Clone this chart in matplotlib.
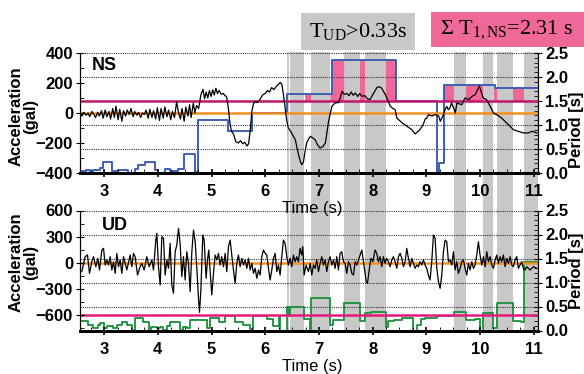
import numpy as np
import matplotlib.pyplot as plt
from matplotlib.patches import Rectangle
from matplotlib.transforms import blended_transform_factory
from matplotlib.ticker import MultipleLocator, FormatStrFormatter

plt.rcParams['font.family'] = ['Liberation Sans', 'DejaVu Sans']
plt.rcParams['font.weight'] = 'bold'
plt.rcParams['mathtext.fontset'] = 'custom'
plt.rcParams['mathtext.rm'] = 'Liberation Serif:weight=normal'
plt.rcParams['mathtext.it'] = 'Liberation Serif:italic:weight=normal'
plt.rcParams['mathtext.bf'] = 'Liberation Serif:weight=bold'

T_START, T_END = 2.55, 11.08

# ---- NS record ----
ns_t = [2.55, 2.59, 2.62, 2.66, 2.70, 2.73, 2.77, 2.81, 2.84, 2.88, 2.91, 2.95, 2.98, 3.02,
        3.05, 3.09, 3.12, 3.16, 3.19, 3.22, 3.26, 3.29, 3.33, 3.36, 3.40, 3.43, 3.47, 3.50,
        3.54, 3.57, 3.61, 3.64, 3.68, 3.71, 3.75, 3.78, 3.82, 3.85, 3.89, 3.92, 3.96, 3.99,
        4.03, 4.06, 4.10, 4.13, 4.17, 4.20, 4.24, 4.27, 4.31, 4.35, 4.38, 4.42, 4.45, 4.49,
        4.52, 4.56, 4.59, 4.62, 4.66, 4.69, 4.72, 4.76, 4.80, 4.84, 4.87, 4.90, 4.93, 4.96,
        4.99, 5.02, 5.05, 5.08, 5.11, 5.14, 5.18, 5.22, 5.25, 5.28, 5.31, 5.34, 5.37, 5.41,
        5.45, 5.50, 5.54, 5.58, 5.62, 5.66, 5.69, 5.72, 5.75, 5.78, 5.81, 5.85, 5.90, 5.95,
        6.00, 6.04, 6.08, 6.12, 6.16, 6.20, 6.24, 6.28, 6.31, 6.34, 6.37, 6.40, 6.43, 6.47,
        6.50, 6.56, 6.62, 6.66, 6.68, 6.71, 6.74, 6.77, 6.80, 6.84, 6.88, 6.93, 6.97, 7.02,
        7.07, 7.12, 7.18, 7.24, 7.30, 7.37, 7.43, 7.47, 7.52, 7.56, 7.60, 7.64, 7.68, 7.72,
        7.76, 7.80, 7.86, 7.90, 7.95, 8.02, 8.08, 8.13, 8.17, 8.24, 8.33, 8.38, 8.42, 8.45,
        8.55, 8.64, 8.73, 8.79, 8.84, 8.88, 8.94, 8.98, 9.01, 9.04, 9.10, 9.17, 9.23, 9.26,
        9.29, 9.32, 9.35, 9.38, 9.41, 9.44, 9.47, 9.51, 9.54, 9.57, 9.66, 9.72, 9.79, 9.85,
        9.91, 9.97, 9.99, 10.03, 10.06, 10.12, 10.19, 10.25, 10.31, 10.40, 10.53, 10.62,
        10.71, 10.81, 10.90, 10.97, 11.06]
ns_acc = [-5, -20, 5, -15, 0, -25, 10, -10, -30, 5, -20, 15, -35, 20,
          -25, 10, -40, 30, -30, 45, -45, 25, -55, 15, -20, 20, -10, 30,
          -25, 10, -15, 5, -30, 0, -10, 20, -35, 25, -30, 15, -40, 35,
          -50, 30, -35, 40, -25, 20, -45, 10, -30, 75, 10, -40, 30, -55,
          40, -20, 55, -30, 65, 0, 50, 30, 120, 158, 95, 140, 100, 150,
          110, 155, 120, 165, 130, 150, 125, 130, 115, 110, 40, -60, -122, -140,
          -190, -200, -185, -205, -195, -220, -205, -120, 10, 60, 78, 70, 90, 120,
          130, 150, 140, 170, 155, 175, 190, 204, 190, 120, 33, -50, -100, -120,
          -140, -178, -278, -330, -344, -330, -260, -200, -178, -155, -165, -178, -210, -233,
          -225, -200, -55, 44, 67, 70, 144, 125, 130, 115, 140, 118, 133, 110,
          130, 112, 115, 95, 89, 133, 170, 175, 165, 120, 44, 30, 22, -33,
          -66, -89, -111, -140, -125, -111, -78, -40, -33, -11, -20, -11, -20, -55,
          -33, -11, 22, 44, 22, 33, 67, 33, 0, 67, 55, 100, 89, 111,
          122, 167, 178, 133, 100, 89, 44, 0, -11, -33, -78, -111,
          -122, -133, -133, -122, -133]

# NS dominant period (s), each value holds from its edge to the next one
ns_edges = [2.55, 2.64, 2.67, 2.73, 2.80, 2.92, 2.98, 3.14, 3.26, 3.45, 3.57, 3.63, 3.76,
            3.94, 4.01, 4.13, 4.22, 4.38, 4.49, 4.70, 4.74, 5.31, 5.76, 6.40, 7.24, 8.44,
            9.20, 9.23, 9.33, 10.27]
ns_period = [0.04, 0.00, 0.06, 0.01, 0.06, 0.10, 0.23, 0.05, 0.07, 0.00, 0.09, 0.17, 0.23,
             0.07, 0.00, 0.09, 0.05, 0.09, 0.39, 0.03, 1.11, 0.87, 1.25, 1.65, 2.36, 1.50,
             0.00, 0.21, 1.83, 1.77]

# ---- UD record ----
ud_t = [2.584, 2.646, 2.690, 2.727, 2.770, 2.801, 2.845, 2.882, 2.913, 2.957, 2.988, 3.019,
        3.050, 3.081, 3.112, 3.143, 3.174, 3.205, 3.236, 3.267, 3.298, 3.329, 3.360, 3.422,
        3.484, 3.515, 3.546, 3.577, 3.621, 3.670, 3.701, 3.745, 3.795, 3.838, 3.888, 3.919,
        3.962, 3.981, 4.012, 4.043, 4.074, 4.105, 4.136, 4.167, 4.198, 4.229, 4.260, 4.291,
        4.322, 4.353, 4.384, 4.415, 4.446, 4.477, 4.508, 4.539, 4.570, 4.601, 4.633, 4.664,
        4.695, 4.726, 4.757, 4.775, 4.800, 4.837, 4.862, 4.899, 4.924, 4.949, 4.974, 5.005,
        5.036, 5.067, 5.098, 5.129, 5.160, 5.191, 5.222, 5.253, 5.284, 5.315, 5.346, 5.377,
        5.408, 5.439, 5.470, 5.501, 5.532, 5.563, 5.595, 5.626, 5.657, 5.688, 5.719, 5.750,
        5.781, 5.812, 5.843, 5.874, 5.905, 5.936, 5.967, 5.998, 6.029, 6.060, 6.091, 6.122,
        6.153, 6.184, 6.215, 6.246, 6.277, 6.308, 6.339, 6.370, 6.401, 6.432, 6.463, 6.494,
        6.525, 6.556, 6.587, 6.618, 6.649, 6.680, 6.699, 6.724, 6.761, 6.805, 6.836, 6.867,
        6.898, 6.929, 6.960, 6.991, 7.022, 7.053, 7.084, 7.115, 7.146, 7.177, 7.208, 7.239,
        7.270, 7.301, 7.332, 7.363, 7.394, 7.425, 7.456, 7.487, 7.518, 7.550, 7.581, 7.612,
        7.643, 7.674, 7.705, 7.736, 7.767, 7.798, 7.829, 7.860, 7.879, 7.904, 7.941, 7.965,
        8.003, 8.046, 8.077, 8.108, 8.139, 8.170, 8.201, 8.232, 8.263, 8.294, 8.325, 8.357,
        8.388, 8.419, 8.450, 8.481, 8.512, 8.543, 8.574, 8.605, 8.636, 8.667, 8.698, 8.729,
        8.760, 8.791, 8.822, 8.853, 8.884, 8.915, 8.946, 8.977, 9.008, 9.039, 9.070, 9.101,
        9.133, 9.164, 9.195, 9.226, 9.257, 9.288, 9.319, 9.350, 9.381, 9.412, 9.443, 9.474,
        9.505, 9.536, 9.567, 9.598, 9.629, 9.660, 9.691, 9.722, 9.753, 9.784, 9.815, 9.846,
        9.877, 9.908, 9.939, 9.970, 10.001, 10.033, 10.064, 10.095, 10.126, 10.157, 10.188,
        10.219, 10.250, 10.281, 10.312, 10.343, 10.374, 10.405, 10.436, 10.467, 10.498,
        10.529, 10.560, 10.591, 10.622, 10.653, 10.684, 10.715, 10.746, 10.777, 10.808,
        10.839, 10.870, 10.901, 10.932, 10.995, 11.057]
ud_acc = [-103, 69, 88, -123, 11, 69, -46, 50, -84, 145, 165, -27,
          31, -27, 69, -84, 11, -123, 107, -46, 31, -123, 69, -84,
          88, -46, 107, 69, -142, -46, -8, -84, 69, -46, 31, -84,
          260, 337, -46, -257, 299, 280, -142, 31, -65, 222, -257, -352,
          126, 203, 394, 222, -161, 69, -199, 126, -8, -333, 126, 375,
          241, -65, -410, -571, -333, 318, 260, -180, 31, 145, -103, -371,
          -123, 88, 31, 107, -27, 69, -46, 107, -103, 184, 260, 88,
          -84, -237, -8, 88, -46, 50, -27, 31, -65, 50, -84, -8,
          -123, -65, -180, -84, -142, 69, 145, 107, 88, -65, -199, -84,
          50, 107, -103, -27, -142, 69, 260, 222, 69, -27, 50, -46,
          88, 11, 69, 11, 165, 88, 184, -142, -27, -103, -8, -142,
          -27, -65, 31, -103, -8, 69, -27, 31, -103, 11, 69, -27,
          31, -65, 69, -84, 107, 126, 11, -8, -123, 11, -27, -123,
          -142, 11, -27, 31, 88, 145, 11, -123, -218, -237, -65, 50,
          11, 145, 107, 11, 69, -46, 69, -8, 50, 11, -46, 31,
          69, 11, -65, 69, 107, 50, -46, 11, 165, 50, -46, 50,
          -8, -65, -27, -46, 11, -27, 31, -27, -65, -142, -199, 11,
          318, 280, -65, -218, -295, -142, 126, 260, 241, 11, 31, -27,
          126, -84, 11, -123, -65, 11, 31, -65, -142, -8, -84, 11,
          -65, -27, 88, 241, 88, -27, 69, -46, 126, 11, 69,
          -27, -65, 31, 88, -8, 69, 11, 88, -46, 50,
          -8, 69, -27, -46, 31, 69, -65, -27, 11, -65,
          -84, -46, -65, -84, -46, -65]

ud_edges = [2.55, 2.69, 2.80, 2.88, 2.93, 3.00, 3.05, 3.17, 3.24, 3.33, 3.42, 3.52, 3.58,
            3.73, 3.83, 3.87, 3.98, 4.04, 4.10, 4.17, 4.23, 4.42, 4.47, 4.54, 4.60, 4.91,
            4.97, 5.13, 5.25, 5.44, 5.59, 5.72, 5.77, 6.03, 6.15, 6.25, 6.28, 6.40, 6.45,
            6.47, 6.73, 6.84, 6.86, 7.21, 7.27, 7.47, 7.76, 7.85, 7.97, 8.25, 8.28, 8.40,
            8.54, 8.76, 8.82, 8.90, 8.98, 9.20, 9.42, 9.52, 9.73, 9.90, 10.00, 10.05, 10.25,
            10.32, 10.61, 10.76, 10.81]
ud_period = [0.20, 0.12, 0.06, 0.12, 0.15, 0.05, 0.10, 0.06, 0.12, 0.18, 0.12, 0.02, 0.26,
             0.17, 0.01, 0.08, 0.05, 0.08, 0.02, 0.10, 0.18, 0.01, 0.08, 0.05, 0.22, 0.05,
             0.26, 0.17, 0.30, 0.17, 0.12, 0.03, 0.31, 0.24, 0.10, 0.29, 0.00, 0.48, 0.30,
             0.48, 0.25, 0.00, 0.67, 0.12, 0.22, 0.57, 0.19, 0.37, 0.39, 0.08, 0.19, 0.22,
             0.27, 0.00, 0.12, 0.25, 0.27, 0.30, 0.31, 0.39, 0.22, 0.25, 0.00, 0.36, 0.05,
             0.57, 0.20, 0.18, 1.42]

ns_limit = 1.5    # s
ud_limit = 0.33   # s

GRAY = '#c8c8c8'
PINK = '#f0689a'
BLUE = '#3f5fb0'
ORANGE = '#f39020'
GREEN = '#1a8f3c'


def step_xy(edges, vals):
    return list(edges) + [T_END], list(vals) + [vals[-1]]


def intervals_above(edges, vals, limit):
    bounds = list(edges) + [T_END]
    out = []
    for i, v in enumerate(vals):
        if v > limit:
            if out and abs(out[-1][1] - bounds[i]) < 1e-9:
                out[-1][1] = bounds[i + 1]
            else:
                out.append([bounds[i], bounds[i + 1]])
    return out


gray_spans = intervals_above(ud_edges, ud_period, ud_limit)

fig = plt.figure(figsize=(5.84, 3.74), dpi=100)
ax_ns = fig.add_axes([80 / 584, 1 - 173 / 374, 458 / 584, 120 / 374])
ax_ud = fig.add_axes([80 / 584, 1 - 330.5 / 374, 458 / 584, 120 / 374])

# gray bands run through both panels
band_tr = blended_transform_factory(ax_ns.transData, fig.transFigure)
for a, b in gray_spans:
    fig.patches.append(Rectangle((a, 1 - 331 / 374), b - a, (331 - 52) / 374,
                                 transform=band_tr, facecolor=GRAY, edgecolor='none',
                                 zorder=-1))


def style_axes(ax, ax2, ylim, major, minor, xpad):
    ax.set_xlim(T_START, T_END)
    ax.set_ylim(*ylim)
    ax2.set_ylim(0, 2.5)
    ax.set_zorder(ax2.get_zorder() + 1)
    ax.patch.set_visible(False)
    ax.yaxis.set_major_locator(MultipleLocator(major))
    ax.yaxis.set_minor_locator(MultipleLocator(minor))
    ax.xaxis.set_major_locator(MultipleLocator(1))
    ax.xaxis.set_minor_locator(MultipleLocator(0.25))
    ax2.yaxis.set_major_locator(MultipleLocator(0.5))
    ax2.yaxis.set_minor_locator(MultipleLocator(0.1))
    ax2.yaxis.set_major_formatter(FormatStrFormatter('%.1f'))
    ax.tick_params(axis='y', which='major', direction='inout', length=6, labelsize=12, pad=2)
    ax.tick_params(axis='y', which='minor', direction='in', length=3)
    ax.tick_params(axis='x', which='major', direction='inout', length=6, width=1.2,
                   labelsize=12, pad=xpad)
    ax.tick_params(axis='x', which='minor', direction='in', length=3)
    ax2.tick_params(axis='y', which='major', direction='inout', length=6, labelsize=12, pad=2)
    ax2.tick_params(axis='y', which='minor', direction='in', length=3)
    for a in (ax, ax2):
        a.spines['top'].set_visible(False)
        a.spines['bottom'].set_linewidth(2)
    ax2.grid(True, which='major', axis='y', color='#333333', lw=0.8, ls=(0, (1, 1)))
    ax2.grid(True, which='major', axis='x', color='#333333', lw=0.8, ls=(0, (1, 1)))
    ax.set_xlabel('Time (s)', fontsize=12)


# ---- NS panel ----
ax_ns2 = ax_ns.twinx()
style_axes(ax_ns, ax_ns2, (-400, 400), 200, 100, 5)
ax_ns.xaxis.set_label_coords(0.507, -0.235)

tt = np.arange(T_START, T_END, 0.002)
ns_p = np.array(ns_period)[np.searchsorted(ns_edges, tt, side='right') - 1]
in_gray = np.zeros_like(tt, dtype=bool)
for a, b in gray_spans:
    in_gray |= (tt >= a) & (tt < b)
ax_ns2.fill_between(tt, ns_limit, ns_p, where=(ns_p > ns_limit) & ~in_gray,
                    color=PINK, lw=0, zorder=1)
sx, sy = step_xy(ns_edges, ns_period)
ax_ns2.step(sx, sy, where='post', color=BLUE, lw=1.4, zorder=2)
ax_ns2.axhline(ns_limit, color='#c0186e', lw=1.8, zorder=3)
ax_ns.axhline(0, color=ORANGE, lw=1.8, zorder=1)
ax_ns.plot(ns_t, ns_acc, color='black', lw=0.9, zorder=2)
ax_ns.text(0.026, 0.97, 'NS', transform=ax_ns.transAxes, fontsize=13,
           va='top', ha='left')

# ---- UD panel ----
ax_ud2 = ax_ud.twinx()
style_axes(ax_ud, ax_ud2, (-780, 600), 300, 150, 5.5)
ax_ud.xaxis.set_label_coords(0.507, -0.238)

sx, sy = step_xy(ud_edges, ud_period)
ax_ud2.step(sx, sy, where='post', color=GREEN, lw=1.3, zorder=2)
ax_ud2.axhline(ud_limit, color='#e5197a', lw=1.8, zorder=3)
ax_ud.axhline(0, color=ORANGE, lw=1.8, zorder=1)
ax_ud.plot(ud_t, ud_acc, color='black', lw=0.9, zorder=2)
ax_ud.text(0.048, 0.95, 'UD', transform=ax_ud.transAxes, fontsize=13,
           va='top', ha='left')

# axis titles
for yc in (116, 262):
    fig.text(23 / 584, 1 - yc / 374, 'Acceleration\n(gal)', rotation=90,
             ha='center', va='center', fontsize=12, linespacing=0.95)
for yc in (130, 271):
    fig.text(577 / 584, 1 - yc / 374, 'Period [s]', rotation=90,
             ha='center', va='center', fontsize=12)

# header boxes
fig.patches.append(Rectangle((301 / 584, 1 - 50 / 374), 114 / 584, 37 / 374,
                             transform=fig.transFigure, facecolor=GRAY,
                             edgecolor='none'))
fig.text(358 / 584, 1 - 31 / 374, r'T$_{\mathrm{UD}}$>0.33s', ha='center', va='center',
         fontsize=16, family='Liberation Serif', weight='normal')
fig.patches.append(Rectangle((431 / 584, 1 - 47 / 374), 153 / 584, 35 / 374,
                             transform=fig.transFigure, facecolor=PINK,
                             edgecolor='none'))
fig.text(507 / 584, 1 - 29.5 / 374, r'$\mathrm{\Sigma}$ T$_{\mathrm{1,NS}}$=2.31 s',
         ha='center', va='center', fontsize=16, family='Liberation Serif',
         weight='normal')

fig.savefig('out.png', dpi=100)
